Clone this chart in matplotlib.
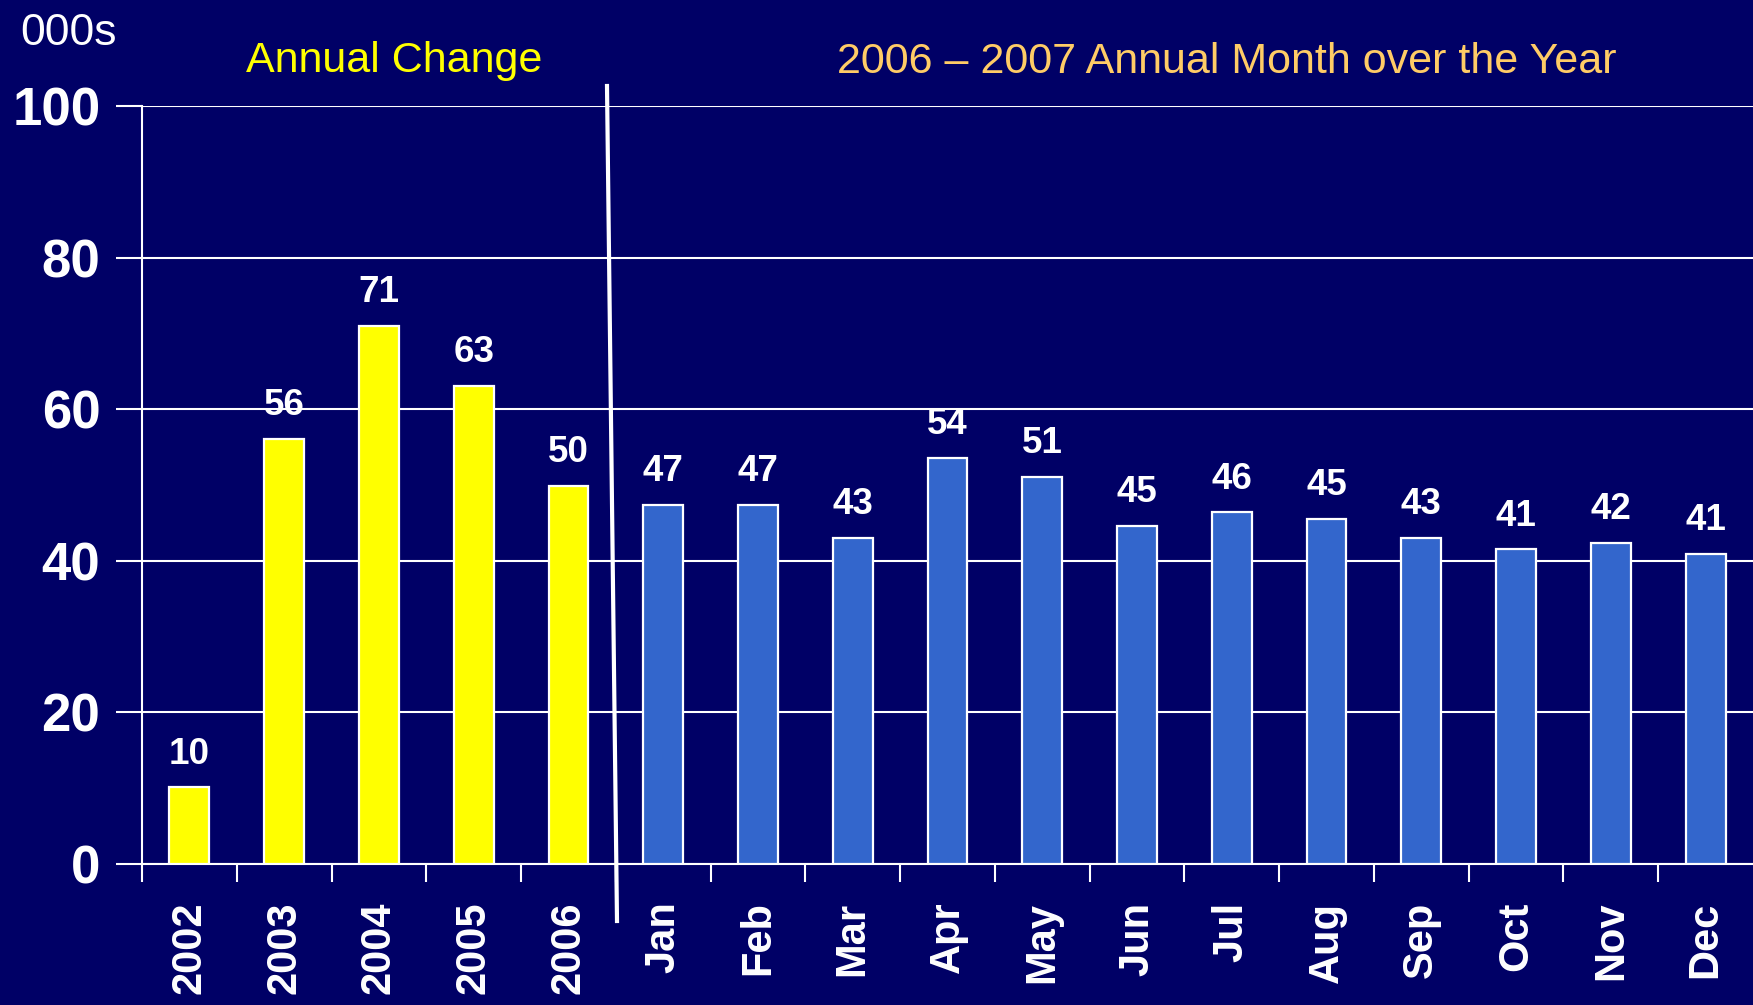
import matplotlib
matplotlib.use("Agg")
import matplotlib.pyplot as plt
from matplotlib.lines import Line2D

# data (thousands)
categories = ['2002', '2003', '2004', '2005', '2006',
              'Jan', 'Feb', 'Mar', 'Apr', 'May', 'Jun',
              'Jul', 'Aug', 'Sep', 'Oct', 'Nov', 'Dec']
annual = [10.1, 56.1, 71.0, 63.1, 49.9]
monthly = [47.4, 47.4, 43.0, 53.6, 51.1, 44.6, 46.4, 45.5, 43.0, 41.5, 42.4, 40.9]
value_labels = ['10', '56', '71', '63', '50',
                '47', '47', '43', '54', '51', '45', '46', '45', '43', '41', '42', '41']
yticks = [0, 20, 40, 60, 80, 100]

bg = '#000066'
yellow = '#FFFF00'
blue = '#3366CC'
orange = '#FFCC66'

plt.rcParams['font.family'] = ['Liberation Sans', 'DejaVu Sans']

fig = plt.figure(figsize=(17.53, 10.05), dpi=100, facecolor=bg)
ax = fig.add_axes([142/1753, 1 - 864/1005, 1 - 142/1753, (864 - 106)/1005])
ax.set_facecolor(bg)

values = annual + monthly
colors = [yellow]*len(annual) + [blue]*len(monthly)
x = list(range(len(categories)))
bars = ax.bar(x, values, width=0.42, color=colors, edgecolor='white', linewidth=1.6, zorder=3)

for xi, v, lab in zip(x, values, value_labels):
    ax.annotate(lab, (xi, v), xytext=(0, 17), textcoords='offset points',
                ha='center', va='baseline', color='white', fontsize=26.5, fontweight='bold')

ax.set_xlim(-0.5, len(categories) - 0.5)
ax.set_ylim(0, 100)
ax.set_yticks(yticks)
ax.set_yticklabels([str(t) for t in yticks])
ax.yaxis.grid(True, color='white', linewidth=1.5, zorder=0)
ax.set_axisbelow(True)

ax.set_xticks(x)
ax.set_xticklabels(categories, rotation=90, va='top')
ax.set_xticks([i - 0.5 for i in range(len(categories))], minor=True)
ax.tick_params(axis='x', which='major', length=0, pad=27, labelsize=30, labelcolor='white')
ax.tick_params(axis='x', which='minor', length=13, width=1.5, color='white', direction='out')
ax.tick_params(axis='y', length=19, width=1.5, color='white', pad=11, labelsize=38, labelcolor='white')
for lbl in ax.get_xticklabels() + ax.get_yticklabels():
    lbl.set_fontweight('bold')

for s in ['top', 'right']:
    ax.spines[s].set_visible(False)
for s in ['left', 'bottom']:
    ax.spines[s].set_color('white')
    ax.spines[s].set_linewidth(1.5)

# texts above the plot
fig.text(20/1753, 1 - 45/1005, '000s', color='white', fontsize=32, ha='left', va='baseline')
fig.text(394/1753, 1 - 72/1005, 'Annual Change', color=yellow, fontsize=31, ha='center', va='baseline')
fig.text(1227/1753, 1 - 73/1005, '2006 \u2013 2007 Annual Month over the Year', color=orange,
         fontsize=31, ha='center', va='baseline')

# slanted divider between the annual and monthly parts
fig.add_artist(Line2D([607/1753, 617/1753], [1 - 86/1005, 1 - 921/1005],
                      color='white', linewidth=3, transform=fig.transFigure))

fig.savefig('out.png', dpi=100, facecolor=bg)
